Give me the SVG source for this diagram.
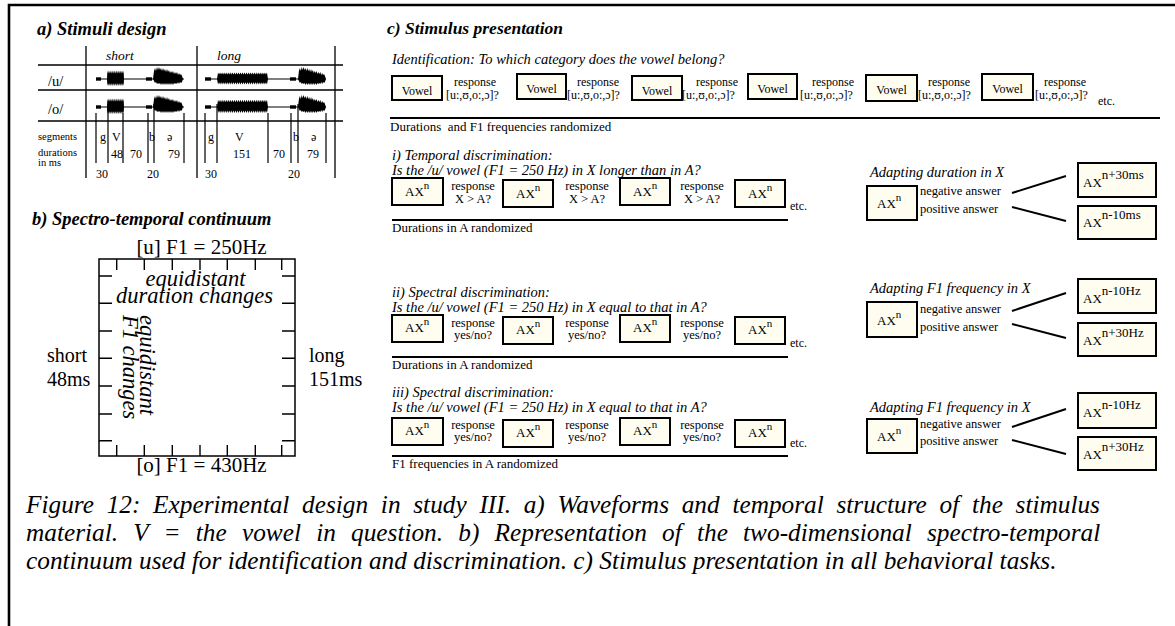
<svg xmlns="http://www.w3.org/2000/svg" width="1175" height="626" viewBox="0 0 1175 626">
<defs>
<style>
text{font-family:"Liberation Serif","Times New Roman",serif;fill:#000}
.h{font-weight:bold;font-style:italic;font-size:18.5px}
.h2{font-weight:bold;font-style:italic;font-size:17.5px}
.i{font-style:italic}
.box{fill:#fffdf0;stroke:#000;stroke-width:2}
.rule{stroke:#000;stroke-width:2;fill:none}
.thin{stroke:#000;stroke-width:1.3;fill:none}
.tick{stroke:#000;stroke-width:1.4;fill:none}
.conn{stroke:#000;stroke-width:2;fill:none}
.s105{font-size:10.5px}
.s12{font-size:12px}
.s125{font-size:12.5px}
.s13{font-size:13px}
.s135{font-size:13.5px}
.s145{font-size:14.5px}
.s20{font-size:20px}
.s21{font-size:21px}
.s22{font-size:22.5px}
.cap{font-size:25.3px;font-style:italic}
.mid{text-anchor:middle}
</style>
<path id="V" fill="#000" d="M0,0L1,-6l1,2 1,-2 1,2 1,-2 1,2 1,-2 1,2 1,-2 1,2 1,-2 1,2 1,-2 1,2 1,-2 1,2 1,-2 1,2 1,-2 1,2 1,-2 1,2 1,-2 1,2 1,-2 1,2 1,-2 1,2 1,-2 1,2 1,-2 1,2 1,-2 1,2 1,-2 1,2 1,-2 1,2 1,-2 1,2 1,-2 1,2 1,-2 1,2 1,-2 1,2 1,-2 1,2 1,-2L50,0L49,5l-1,-2 -1,2 -1,-2 -1,2 -1,-2 -1,2 -1,-2 -1,2 -1,-2 -1,2 -1,-2 -1,2 -1,-2 -1,2 -1,-2 -1,2 -1,-2 -1,2 -1,-2 -1,2 -1,-2 -1,2 -1,-2 -1,2 -1,-2 -1,2 -1,-2 -1,2 -1,-2 -1,2 -1,-2 -1,2 -1,-2 -1,2 -1,-2 -1,2 -1,-2 -1,2 -1,-2 -1,2 -1,-2 -1,2 -1,-2 -1,2 -1,-2 -1,2 -1,-2 -1,2Z"/>
<path id="S" fill="#000" d="M0,0L1,-8 2,-11 3,-8 4,-12 5,-9 6,-12 7,-9 8,-11 9,-8 10,-11 11,-8 12,-10 13,-7 14,-10 15,-7 16,-9 17,-6 18,-8 19,-6 20,-8 21,-5 22,-7 23,-5 24,-7 25,-4 26,-6 27,-4 28,-5 29,-3 30,0 29,3 28,4 27,3 26,5 25,3 24,5 23,4 22,5 21,4 20,6 19,4 18,6 17,4 16,6 15,4 14,6 13,4 12,6 11,4 10,6 9,4 8,6 7,4 6,5 5,4 4,5 3,3 2,4 1,2Z"/>
</defs>

<g id="frame">
<path d="M9,626V5H1175" fill="none" stroke="#000" stroke-width="2.6"/>
</g>

<g id="stimuli-design">
<text x="37" y="35" class="h">a) Stimuli design</text>
<path class="thin" d="M86,46V178M197,46V178M335,46V178M38,65H343M38,90H343M38,121H343"/>
<text x="106" y="60" class="i s135">short</text>
<text x="217" y="60" class="i s135">long</text>
<text x="48" y="86" class="s145">/u/</text>
<text x="48" y="114" class="s145">/o/</text>
<path stroke="#000" stroke-width="1.2" fill="none" d="M96,79H184M205,79H326M96,107H184M205,107H326"/>
<rect x="96" y="77.3" width="5" height="3.4"/>
<rect x="146" y="77.3" width="6" height="3.4"/>
<rect x="205" y="77.3" width="6" height="3.4"/>
<rect x="290" y="77.3" width="6" height="3.4"/>
<rect x="96" y="105.3" width="5" height="3.4"/>
<rect x="146" y="105.3" width="6" height="3.4"/>
<rect x="205" y="105.3" width="6" height="3.4"/>
<rect x="290" y="105.3" width="6" height="3.4"/>
<use href="#V" transform="translate(107,79) scale(0.34,1.4)"/>
<use href="#S" transform="translate(153,79)"/>
<use href="#V" transform="translate(217,79) scale(1.02,1.1)"/>
<use href="#S" transform="translate(298,79) scale(0.93,1)"/>
<use href="#V" transform="translate(107,107) scale(0.34,1.4)"/>
<use href="#S" transform="translate(153,107)"/>
<use href="#V" transform="translate(217,107) scale(1.02,1.2)"/>
<use href="#S" transform="translate(298,107) scale(0.93,1)"/>
<path stroke="#000" stroke-width="1.2" fill="none" d="M96,113V163M108,104V163M123,113V163M148,113V163M154,104V163M184,113V163M205,113V163M217,104V163M268,113V163M291,113V163M298,104V163M326,113V163"/>
<text x="38" y="140" class="s105">segments</text>
<text x="38" y="156" class="s105">durations</text>
<text x="38" y="166" class="s105">in ms</text>
<text x="100" y="141" class="s12">g</text>
<text x="112" y="141" class="s12">V</text>
<text x="149" y="141" class="s12">b</text>
<text x="167" y="141" class="s12">ə</text>
<text x="111" y="158" class="s12">48</text>
<text x="130" y="158" class="s12">70</text>
<text x="168" y="158" class="s12">79</text>
<text x="96" y="178" class="s12">30</text>
<text x="147" y="178" class="s12">20</text>
<text x="208" y="141" class="s12">g</text>
<text x="235" y="141" class="s12">V</text>
<text x="293" y="141" class="s12">b</text>
<text x="311" y="141" class="s12">ə</text>
<text x="233" y="158" class="s12">151</text>
<text x="273" y="158" class="s12">70</text>
<text x="307" y="158" class="s12">79</text>
<text x="205" y="178" class="s12">30</text>
<text x="288" y="178" class="s12">20</text>
</g>

<g id="continuum">
<text x="32" y="225" class="h">b) Spectro-temporal continuum</text>
<text x="201.5" y="254" class="s21 mid">[u] F1 = 250Hz</text>
<text x="201.5" y="472" class="s21 mid">[o] F1 = 430Hz</text>
<rect x="99" y="259" width="196" height="197" fill="none" stroke="#000" stroke-width="1.5"/>
<path class="tick" d="M116.7,259v11M144.3,259v11M172.3,259v11M200,259v11M227.3,259v11M255.3,259v11M281.7,259v11M116.7,456v-11M144.3,456v-11M172.3,456v-11M200,456v-11M227.3,456v-11M255.3,456v-11M281.7,456v-11M99,276h13M99,303.3h13M99,331h13M99,358.3h13M99,386h13M99,414h13M99,440.7h13M295,276h-13M295,303.3h-13M295,331h-13M295,358.3h-13M295,386h-13M295,414h-13M295,440.7h-13"/>
<text class="i s22 mid"><tspan x="195.5" y="286">equidistant</tspan><tspan x="194.5" y="303">duration changes</tspan></text>
<text transform="translate(140,315) rotate(90)" class="i s22"><tspan x="0" y="0">equidistant</tspan><tspan x="0" y="17">F1 changes</tspan></text>
<text x="47" y="362" class="s20">short</text>
<text x="47" y="386" class="s20">48ms</text>
<text x="309" y="362" class="s20">long</text>
<text x="309" y="386" class="s20">151ms</text>
</g>

<g id="presentation-title">
<text x="387" y="34" class="h2">c) Stimulus presentation</text>
</g>

<g id="identification">
<text x="392" y="64" class="i s145">Identification: To which category does the vowel belong?</text>
<g id="id-vowel-1"><rect class="box" x="392" y="76" width="50" height="24"/><text x="417" y="95" class="s12 mid">Vowel</text></g>
<g id="id-vowel-2"><rect class="box" x="517" y="74" width="49" height="25"/><text x="541.5" y="93" class="s12 mid">Vowel</text></g>
<g id="id-vowel-3"><rect class="box" x="632" y="76" width="50" height="24"/><text x="657" y="95" class="s12 mid">Vowel</text></g>
<g id="id-vowel-4"><rect class="box" x="748" y="74" width="49" height="25"/><text x="772.5" y="93" class="s12 mid">Vowel</text></g>
<g id="id-vowel-5"><rect class="box" x="866" y="75" width="51" height="26"/><text x="891.5" y="94" class="s12 mid">Vowel</text></g>
<g id="id-vowel-6"><rect class="box" x="982" y="74" width="51" height="26"/><text x="1007.5" y="93" class="s12 mid">Vowel</text></g>
<text x="475" y="86" class="s12 mid">response</text><text x="446" y="99" class="s12">[u:,ʊ,o:,ɔ]?</text>
<text x="598" y="86" class="s12 mid">response</text><text x="567" y="99" class="s12">[u:,ʊ,o:,ɔ]?</text>
<text x="717" y="86" class="s12 mid">response</text><text x="682" y="99" class="s12">[u:,ʊ,o:,ɔ]?</text>
<text x="833" y="86" class="s12 mid">response</text><text x="800" y="99" class="s12">[u:,ʊ,o:,ɔ]?</text>
<text x="949" y="86" class="s12 mid">response</text><text x="918" y="99" class="s12">[u:,ʊ,o:,ɔ]?</text>
<text x="1065" y="86" class="s12 mid">response</text><text x="1035" y="99" class="s12">[u:,ʊ,o:,ɔ]?</text>
<text x="1098" y="105" class="s12">etc.</text>
<path class="rule" d="M390,118H1160"/>
<text x="390" y="131" class="s13">Durations&#160; and F1 frequencies randomized</text>
</g>

<g id="temporal">
<text x="392" y="160" class="i s145">i) Temporal discrimination:</text>
<text x="392" y="175" class="i s145">Is the /u/ vowel (F1 = 250 Hz) in X longer than in A?</text>
<g id="t-ax-1"><rect class="box" x="392" y="178" width="51" height="27"/><text x="405" y="196" class="s13">AX<tspan dy="-7" font-size="11">n</tspan></text></g>
<g id="t-ax-2"><rect class="box" x="503" y="180" width="50" height="27"/><text x="516" y="198" class="s13">AX<tspan dy="-7" font-size="11">n</tspan></text></g>
<g id="t-ax-3"><rect class="box" x="620" y="178" width="50" height="27"/><text x="633" y="196" class="s13">AX<tspan dy="-7" font-size="11">n</tspan></text></g>
<g id="t-ax-4"><rect class="box" x="735" y="180" width="50" height="27"/><text x="748" y="198" class="s13">AX<tspan dy="-7" font-size="11">n</tspan></text></g>
<text x="473" y="190" class="s125 mid">response</text><text x="473" y="203" class="s125 mid">X &gt; A?</text>
<text x="587" y="190" class="s125 mid">response</text><text x="587" y="203" class="s125 mid">X &gt; A?</text>
<text x="702" y="190" class="s125 mid">response</text><text x="702" y="203" class="s125 mid">X &gt; A?</text>
<text x="790" y="210" class="s12">etc.</text>
<path class="rule" d="M392,220H788"/>
<text x="392" y="232" class="s13">Durations in A randomized</text>
<text x="870" y="177" class="i s145">Adapting duration in X</text>
<g id="t-adapt"><rect class="box" x="867" y="186" width="50" height="34"/><text x="877" y="208" class="s13">AX<tspan dy="-7" font-size="11">n</tspan></text></g>
<text x="920" y="195" class="s125">negative answer</text>
<text x="920" y="213" class="s125">positive answer</text>
<g id="t-up"><rect class="box" x="1078" y="163" width="78" height="34"/><text x="1083" y="187" class="s13">AX<tspan dy="-8">n+30ms</tspan></text></g>
<g id="t-down"><rect class="box" x="1078" y="206" width="78" height="33"/><text x="1083" y="227" class="s13">AX<tspan dy="-8">n-10ms</tspan></text></g>
</g>

<g id="spectral-2">
<text x="392" y="297" class="i s145">ii) Spectral discrimination:</text>
<text x="392" y="312" class="i s145">Is the /u/ vowel (F1 = 250 Hz) in X equal to that in A?</text>
<g id="s2-ax-1"><rect class="box" x="392" y="315" width="51" height="27"/><text x="405" y="332" class="s13">AX<tspan dy="-7" font-size="11">n</tspan></text></g>
<g id="s2-ax-2"><rect class="box" x="503" y="317" width="50" height="27"/><text x="516" y="334" class="s13">AX<tspan dy="-7" font-size="11">n</tspan></text></g>
<g id="s2-ax-3"><rect class="box" x="620" y="315" width="50" height="27"/><text x="633" y="332" class="s13">AX<tspan dy="-7" font-size="11">n</tspan></text></g>
<g id="s2-ax-4"><rect class="box" x="735" y="317" width="50" height="27"/><text x="748" y="334" class="s13">AX<tspan dy="-7" font-size="11">n</tspan></text></g>
<text x="473" y="327" class="s125 mid">response</text><text x="473" y="339" class="s125 mid">yes/no?</text>
<text x="587" y="327" class="s125 mid">response</text><text x="587" y="339" class="s125 mid">yes/no?</text>
<text x="702" y="327" class="s125 mid">response</text><text x="702" y="339" class="s125 mid">yes/no?</text>
<text x="790" y="347" class="s12">etc.</text>
<path class="rule" d="M392,357H788"/>
<text x="392" y="369" class="s13">Durations in A randomized</text>
<text x="870" y="293" class="i s145">Adapting F1 frequency in X</text>
<g id="s2-adapt"><rect class="box" x="867" y="302" width="50" height="35"/><text x="877" y="325" class="s13">AX<tspan dy="-7" font-size="11">n</tspan></text></g>
<text x="920" y="313" class="s125">negative answer</text>
<text x="920" y="331" class="s125">positive answer</text>
<g id="s2-up"><rect class="box" x="1078" y="279" width="78" height="34"/><text x="1083" y="303" class="s13">AX<tspan dy="-8">n-10Hz</tspan></text></g>
<g id="s2-down"><rect class="box" x="1078" y="323" width="78" height="33"/><text x="1083" y="345" class="s13">AX<tspan dy="-8">n+30Hz</tspan></text></g>
</g>

<g id="spectral-3">
<text x="392" y="397" class="i s145">iii) Spectral discrimination:</text>
<text x="392" y="412" class="i s145">Is the /u/ vowel (F1 = 250 Hz) in X equal to that in A?</text>
<g id="s3-ax-1"><rect class="box" x="392" y="418" width="51" height="27"/><text x="405" y="435" class="s13">AX<tspan dy="-7" font-size="11">n</tspan></text></g>
<g id="s3-ax-2"><rect class="box" x="503" y="420" width="50" height="27"/><text x="516" y="437" class="s13">AX<tspan dy="-7" font-size="11">n</tspan></text></g>
<g id="s3-ax-3"><rect class="box" x="620" y="418" width="50" height="27"/><text x="633" y="435" class="s13">AX<tspan dy="-7" font-size="11">n</tspan></text></g>
<g id="s3-ax-4"><rect class="box" x="735" y="420" width="50" height="27"/><text x="748" y="437" class="s13">AX<tspan dy="-7" font-size="11">n</tspan></text></g>
<text x="473" y="429" class="s125 mid">response</text><text x="473" y="441" class="s125 mid">yes/no?</text>
<text x="587" y="429" class="s125 mid">response</text><text x="587" y="441" class="s125 mid">yes/no?</text>
<text x="702" y="429" class="s125 mid">response</text><text x="702" y="441" class="s125 mid">yes/no?</text>
<text x="790" y="447" class="s12">etc.</text>
<path class="rule" d="M392,456H788"/>
<text x="392" y="468" class="s13">F1 frequencies in A randomized</text>
<text x="870" y="412" class="i s145">Adapting F1 frequency in X</text>
<g id="s3-adapt"><rect class="box" x="867" y="419" width="50" height="34"/><text x="877" y="441" class="s13">AX<tspan dy="-7" font-size="11">n</tspan></text></g>
<text x="920" y="428" class="s125">negative answer</text>
<text x="920" y="445" class="s125">positive answer</text>
<g id="s3-up"><rect class="box" x="1078" y="393" width="78" height="35"/><text x="1083" y="417" class="s13">AX<tspan dy="-8">n-10Hz</tspan></text></g>
<g id="s3-down"><rect class="box" x="1078" y="437" width="78" height="33"/><text x="1083" y="459" class="s13">AX<tspan dy="-8">n+30Hz</tspan></text></g>
</g>

<g id="connectors">
<path class="conn" d="M1012,193L1066,176M1012,207L1066,221"/>
<path class="conn" d="M1012,311L1066,293M1012,324L1066,338"/>
<path class="conn" d="M1012,427L1066,409M1012,440L1066,454"/>
</g>

<g id="caption">
<text x="26" y="513" class="cap" word-spacing="6.4">Figure 12: Experimental design in study III. a) Waveforms and temporal structure of the stimulus</text>
<text x="26" y="541" class="cap" word-spacing="8.9">material. V = the vowel in question. b) Representation of the two-dimensional spectro-temporal</text>
<text x="26" y="569" class="cap">continuum used for identification and discrimination. c) Stimulus presentation in all behavioral tasks.</text>
</g>
</svg>
